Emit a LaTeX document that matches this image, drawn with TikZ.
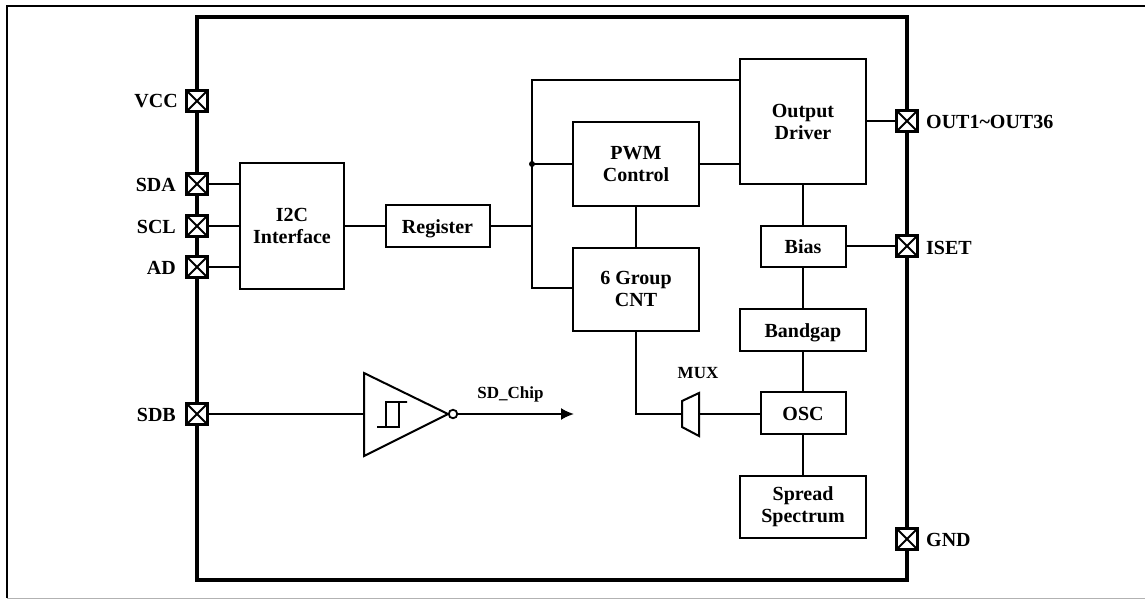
\documentclass[tikz,border=0pt]{standalone}
\usepackage{fontspec}
\setmainfont{Liberation Serif}
\usetikzlibrary{calc,arrows.meta}
\tikzset{%
	block/.style  = {draw, rectangle, line width=2pt, align=center, font=\lbl}, % Function block
	single/.style = {text height=14.5pt, text depth=0pt}, % One line of text
	chip/.style   = {draw, rectangle, line width=4.4pt}, % Package outline
	pad/.style    = {draw, rectangle, fill=white, line width=2.2pt, minimum size=21pt, inner sep=0pt,
		path picture={\draw[line width=1.8pt] (path picture bounding box.north west) -- (path picture bounding box.south east)
			(path picture bounding box.north east) -- (path picture bounding box.south west);}}, % Pin
	pin/.style    = {font=\lbl, inner sep=0pt}, % Pin name
	small/.style  = {font=\fontsize{17}{20}\selectfont\bfseries}, % Small label
	wire/.style   = {line width=2pt},
	waypoint/.style = {coordinate},
}
\newcommand{\lbl}{\fontsize{20}{22}\selectfont\bfseries}
\begin{document}
\begin{tikzpicture}[x=1pt,y=-1pt,node distance=41.5pt]
	\useasboundingbox (0,0) rectangle (1145,599);
	\draw[gray!60,line width=1pt] (7,598) -- (1145,598);
	\draw[line width=2.2pt] (1145,6) -- (7,6) -- (7,598);
	\node[chip,minimum width=710pt,minimum height=563pt] (ic) at (552,298.5) {};
	
	% Left pins
	\node[pad] (vcc) at (197,101) {};
	\node[pad] (sda) at (197,184) {};
	\node[pad] (scl) at (197,226) {};
	\node[pad] (ad) at (197,267) {};
	\node[pad] (sdb) at (197,414) {};
	\node[pin,anchor=east] at (178,101) {VCC};
	\node[pin,anchor=east] at (176,185) {SDA};
	\node[pin,anchor=east] at (176,226.5) {SCL};
	\node[pin,anchor=east] at (176,268) {AD};
	\node[pin,anchor=east] at (176,414.5) {SDB};
	
	% Right pins
	\node[pad] (out) at (907,121) {};
	\node[pad] (iset) at (907,246) {};
	\node[pad] (gnd) at (907,539) {};
	\node[pin,anchor=west] at (926,121.5) {OUT1\textasciitilde OUT36};
	\node[pin,anchor=west] at (926,247.5) {ISET};
	\node[pin,anchor=west] at (926,539.5) {GND};
	
	% Blocks
	\node[block,minimum width=104pt,minimum height=126pt] (i2c) at (292,226) {I2C\\Interface};
	\node[block,single,minimum width=104pt,minimum height=42pt] (reg) at (437.5,226) {Register};
	\node[block,minimum width=126pt,minimum height=125pt] (drv) at (803,121.5) {Output\\Driver};
	\node[block,minimum width=126pt,minimum height=83pt] (pwm) at (636,164) {PWM\\Control};
	\node[block,minimum width=126pt,minimum height=83pt,below of=pwm,node distance=125pt] (cnt) {6 Group\\CNT};
	\node[block,single,minimum width=85pt,minimum height=41pt] (bias) at (803,246) {Bias};
	\node[block,single,minimum width=126pt,minimum height=42pt,below of=bias,node distance=84pt] (bg) {Bandgap};
	\node[block,single,minimum width=85pt,minimum height=42pt,below of=bg,node distance=83pt] (osc) {OSC};
	\node[block,minimum width=126pt,minimum height=62pt] (ss) at (803,507) {Spread\\Spectrum};
	
	% Schmitt inverter
	\draw[line width=2pt,line join=miter] (364,373) -- (448,414) -- (364,456) -- cycle;
	\coordinate (invin) at (364,414);
	\node[draw,circle,line width=1.8pt,minimum size=8.5pt,inner sep=0pt] (bub) at (453,414) {};
	\draw[wire] (377,427) -- (399,427) -- (399,402) -- (407,402) -- (386,402) -- (386,427);
	\node[waypoint] (sdend) at (574,414) {};
	\node[small] at (510.5,394) {SD\_Chip};
	
	% MUX
	\draw[line width=2pt] (682,401) -- (699,393) -- (699,436) -- (682,427) -- cycle;
	\coordinate (muxl) at (682,414);
	\coordinate (muxr) at (699,414);
	\node[small] at (698,373) {MUX};
	
	% Bus
	\coordinate (bus) at (532,226);
	\coordinate (cntin) at (cnt.west |- 0,288);
	\draw[wire] (reg) -- (i2c);
	\draw[wire] (reg) -- (bus);
	\draw[wire] (drv.west |- 0,80) -| (bus |- cntin) -- (cntin);
	\draw[wire] (pwm) -- (bus |- pwm);
	\fill (bus |- pwm) circle (3pt);
	\draw[wire] (pwm) -- (drv.west |- pwm);
	\draw[wire] (pwm) -- (cnt);
	\draw[wire] (drv) -- (bias);
	\draw[wire] (bias) -- (bg);
	\draw[wire] (bg) -- (osc);
	\draw[wire] (osc) -- (ss);
	\draw[wire] (cnt) |- (muxl);
	\draw[wire] (muxr) -- (muxr -| osc.west);
	\draw[wire] (sda) -- (sda -| i2c.west);
	\draw[wire] (scl) -- (i2c);
	\draw[wire] (ad) -- (ad -| i2c.west);
	\draw[wire] (sdb) -- (invin);
	\draw[wire,-{Latex[length=13pt,width=12pt]}] (bub) -- (sdend);
	\draw[wire] (drv.east |- out) -- (out);
	\draw[wire] (bias) -- (iset);
\end{tikzpicture}
\end{document}
